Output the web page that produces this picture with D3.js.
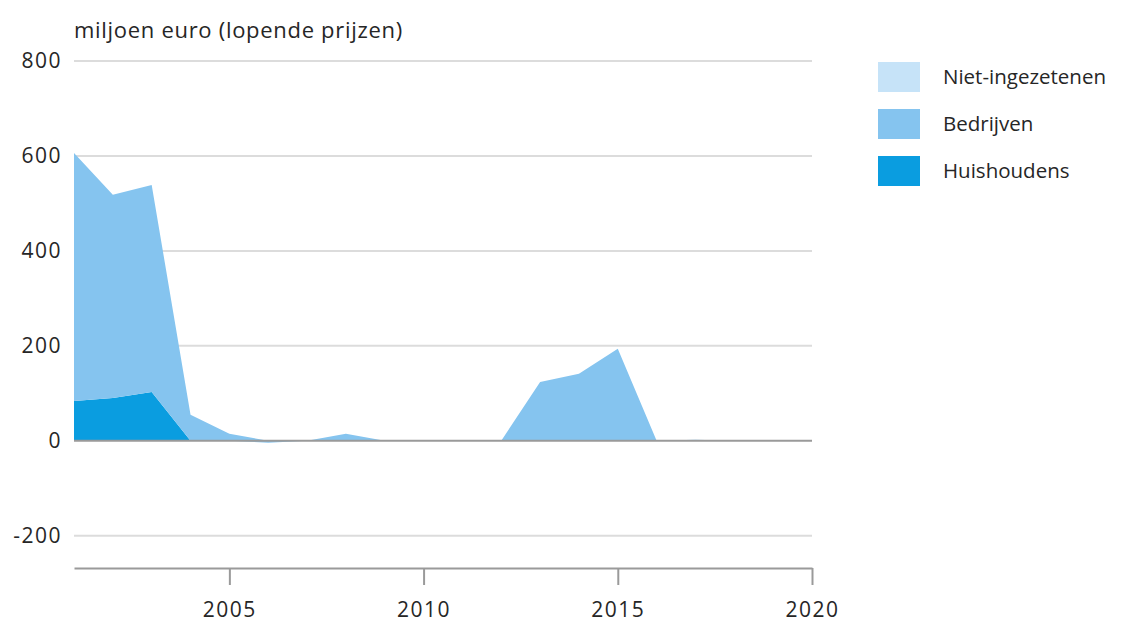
<!DOCTYPE html>
<html><head><meta charset="utf-8">
<script src="https://cdn.jsdelivr.net/npm/d3@7"></script>
<style>
body{margin:0;background:#fff;}
svg text{font-family:"Open Sans",Lato,sans-serif;fill:#262626;}
</style></head>
<body><svg id="c" width="1138" height="624"></svg>
<script>
const years = d3.range(2001, 2021);
const huishoudens     = [84, 90, 103, 0, 0, 0, 0, 0, 0, 0, 0, 0, 0, 0, 0, 0, 0, 0, 0, 0];
const bedrijven       = [522, 428, 436, 55, 15, -4, 0, 15, 0, 0, 0, 0, 124, 141, 194, 0, 2, 0, 0, 0];
const nietIngezetenen = [0, 0, 0, 0, 0, 0, 0, 0, 0, 0, 0, 0, 0, 0, 0, 0, 0, 0, 0, 0];
const seriesNames = ["Huishoudens", "Bedrijven", "Niet-ingezetenen"];
const seriesColors = ["#0a9de0", "#85c4ef", "#c6e3f8"];
const yTicks = [-200, 0, 200, 400, 600, 800];
const xTicks = [2005, 2010, 2015, 2020];
const yTitle = "miljoen euro (lopende prijzen)";

const svg = d3.select("#c");
const x = d3.scaleLinear().domain([2001, 2020]).range([74, 812]);
const y = d3.scaleLinear().domain([-268, 800]).range([568, 61]);

const rows = years.map((yr, i) => ({year: yr, "Huishoudens": huishoudens[i], "Bedrijven": bedrijven[i], "Niet-ingezetenen": nietIngezetenen[i]}));
const stack = d3.stack().keys(seriesNames).offset(d3.stackOffsetDiverging);
const layers = stack(rows);

// gridlines
svg.append("g").selectAll("line").data(yTicks.filter(t => t !== 0)).join("line")
  .attr("x1", x(2001)).attr("x2", x(2020)).attr("y1", d => y(d)).attr("y2", d => y(d))
  .attr("stroke", "#dcdcdc").attr("stroke-width", 2);

// areas
const area = d3.area().x(d => x(d.data.year)).y0(d => y(d[0])).y1(d => y(d[1]));
svg.append("g").selectAll("path").data(layers).join("path")
  .attr("d", area).attr("fill", (d, i) => seriesColors[i]);

// zero line
svg.append("line").attr("x1", x(2001)).attr("x2", x(2020)).attr("y1", y(0)).attr("y2", y(0))
  .attr("stroke", "#9a9a9a").attr("stroke-width", 2);

// y labels
svg.append("g").selectAll("text").data(yTicks).join("text")
  .attr("x", 62).attr("y", d => y(d)).attr("dy", "0.35em").attr("text-anchor", "end")
  .attr("font-size", 21).attr("letter-spacing", 1.5).text(d => d);

// x axis
const xAxis = d3.axisBottom(x).tickValues(xTicks).tickFormat(d3.format("d"))
  .tickSize(17).tickSizeOuter(0).tickPadding(17);
const gx = svg.append("g").attr("transform", `translate(0,${y.range()[0]})`).call(xAxis);
gx.select(".domain").attr("stroke", "#9a9a9a").attr("stroke-width", 2);
gx.selectAll(".tick line").attr("stroke", "#9a9a9a").attr("stroke-width", 2);
gx.selectAll(".tick text").attr("font-size", 21).attr("letter-spacing", 1.5)
  .attr("fill", "#262626").attr("font-family", null);

// title
svg.append("text").attr("x", 74).attr("y", 38).attr("font-size", 22).attr("letter-spacing", 0.7).text(yTitle);

// legend
const legendOrder = ["Niet-ingezetenen", "Bedrijven", "Huishoudens"];
const lg = svg.append("g").selectAll("g").data(legendOrder).join("g")
  .attr("transform", (d, i) => `translate(878,${62 + i * 47})`);
lg.append("rect").attr("width", 42).attr("height", 30)
  .attr("fill", d => seriesColors[seriesNames.indexOf(d)]);
lg.append("text").attr("x", 65).attr("y", 15).attr("dy", "0.35em").attr("font-size", 20.5).text(d => d);
</script></body></html>
